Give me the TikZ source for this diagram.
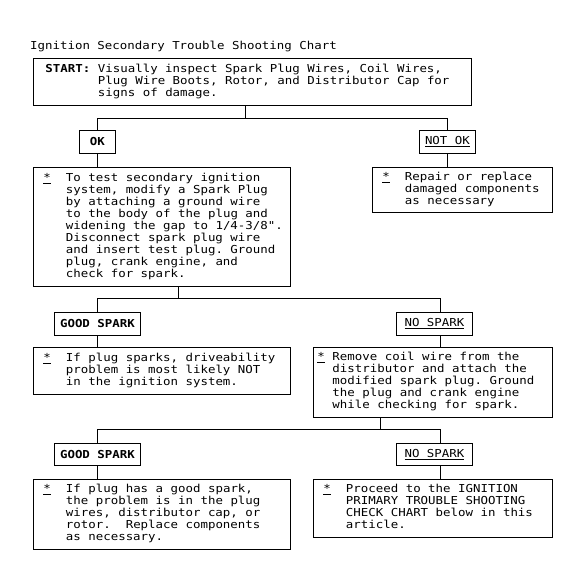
\documentclass[tikz,border=0pt]{standalone}
\usepackage{fontspec}
\newfontfamily\monofnt[FakeStretch=1.133]{DejaVu Sans Mono}
\newcommand\msp{\frenchspacing\spaceskip=7.5bp\relax\xspaceskip=7.5bp\relax}
\newcommand\monosetup{\monofnt\fontsize{11}{12}\selectfont\msp}
\begin{document}
\begin{tikzpicture}[x=1bp,y=-1bp,
  every node/.style={font=\monosetup},
  box/.style={draw,line width=0.9bp,rectangle,inner ysep=0pt,anchor=north west,align=left},
  lab/.style={draw,line width=0.9bp,rectangle,inner sep=0pt,anchor=north west},
  conn/.style={line width=0.9bp}]
\useasboundingbox (0,0) rectangle (575,577);
\fill[white] (0,0) rectangle (575,577);
\node[anchor=base west,inner sep=0pt] (title) at (30,50) {Ignition Secondary Trouble Shooting Chart};
% START box
\node[box,minimum width=438bp,minimum height=47bp,text width=414bp,inner xsep=12bp] (start) at (33,58)
 {\msp\begin{tabular}{@{}p{52.5bp}@{}l@{}}\textbf{START:}&Visually inspect Spark Plug Wires, Coil Wires,\\
  &Plug Wire Boots, Rotor, and Distributor Cap for\\ &signs of damage.\end{tabular}};
\node[lab,minimum width=36bp,minimum height=23bp] (ok) at (79,130) {\textbf{OK}};
\node[lab,minimum width=56bp,minimum height=23bp] (notok) at (419,130) {\underline{NOT OK}};
\node[box,minimum width=257bp,minimum height=119bp,text width=237bp,inner xsep=10bp] (test) at (33,167)
 {\msp\begin{tabular}{@{}p{22.5bp}@{}l@{}}\underline{*}&To test secondary ignition\\
 &system, modify a Spark Plug\\ &by attaching a ground wire\\ &to the body of the plug and\\
 &widening the gap to 1/4-3/8".\\ &Disconnect spark plug wire\\ &and insert test plug. Ground\\
 &plug, crank engine, and\\ &check for spark.\end{tabular}};
\node[box,minimum width=180bp,minimum height=45bp,text width=160bp,inner xsep=10bp] (repair) at (372,167)
 {\msp\begin{tabular}{@{}p{22.5bp}@{}l@{}}\underline{*}&Repair or replace\\ &damaged components\\ &as necessary\end{tabular}};
% second level
\node[lab,minimum width=86bp,minimum height=23bp] (gs1) at (54,312) {\textbf{GOOD SPARK}};
\node[lab,minimum width=76bp,minimum height=23bp] (ns1) at (396,312) {\underline{NO SPARK}};
\node[box,minimum width=257bp,minimum height=47bp,text width=237bp,inner xsep=10bp] (sparks) at (33,347)
 {\msp\begin{tabular}{@{}p{22.5bp}@{}l@{}}\underline{*}&If plug sparks, driveability\\
 &problem is most likely NOT\\ &in the ignition system.\end{tabular}};
\node[box,minimum width=239bp,minimum height=70bp,text width=231bp,inner xsep=4bp] (coil) at (313,347)
 {\msp\begin{tabular}{@{}p{15bp}@{}l@{}}\underline{*}&Remove coil wire from the\\
 &distributor and attach the\\ &modified spark plug. Ground\\ &the plug and crank engine\\
 &while checking for spark.\end{tabular}};
% third level
\node[lab,minimum width=86bp,minimum height=22bp] (gs2) at (54,443) {\textbf{GOOD SPARK}};
\node[lab,minimum width=76bp,minimum height=22bp] (ns2) at (396,443) {\underline{NO SPARK}};
\node[box,minimum width=257bp,minimum height=70bp,text width=237bp,inner xsep=10bp] (has) at (33,479)
 {\msp\begin{tabular}{@{}p{22.5bp}@{}l@{}}\underline{*}&If plug has a good spark,\\
 &the problem is in the plug\\ &wires, distributor cap, or\\ &rotor.\ \ Replace components\\
 &as necessary.\end{tabular}};
\node[box,minimum width=239bp,minimum height=58bp,text width=219bp,inner xsep=10bp] (proceed) at (313,479)
 {\msp\begin{tabular}{@{}p{22.5bp}@{}l@{}}\underline{*}&Proceed to the IGNITION\\
 &PRIMARY TROUBLE SHOOTING\\ &CHECK CHART below in this\\ &article.\end{tabular}};
% connectors
\coordinate (j1) at (245,118);
\coordinate (l1) at (97,118);
\coordinate (r1) at (447,118);
\draw[conn] (start.south -| j1) -- (j1);
\draw[conn] (ok.north -| l1) -- (l1) -- (r1) -- (notok.north -| r1);
\draw[conn] (ok.south -| l1) -- (test.north -| l1);
\draw[conn] (notok.south -| r1) -- (repair.north -| r1);
\coordinate (j2) at (178,298);
\coordinate (l2) at (97,298);
\coordinate (r2) at (440,298);
\draw[conn] (test.south -| j2) -- (j2);
\draw[conn] (gs1.north -| l2) -- (l2) -- (r2) -- (ns1.north -| r2);
\draw[conn] (gs1.south -| l2) -- (sparks.north -| l2);
\draw[conn] (ns1.south -| r2) -- (coil.north -| r2);
\coordinate (j3) at (380,429);
\coordinate (l3) at (97,429);
\coordinate (r3) at (440,429);
\draw[conn] (coil.south -| j3) -- (j3);
\draw[conn] (gs2.north -| l3) -- (l3) -- (r3) -- (ns2.north -| r3);
\draw[conn] (gs2.south -| l3) -- (has.north -| l3);
\draw[conn] (ns2.south -| r3) -- (proceed.north -| r3);
\end{tikzpicture}
\end{document}
